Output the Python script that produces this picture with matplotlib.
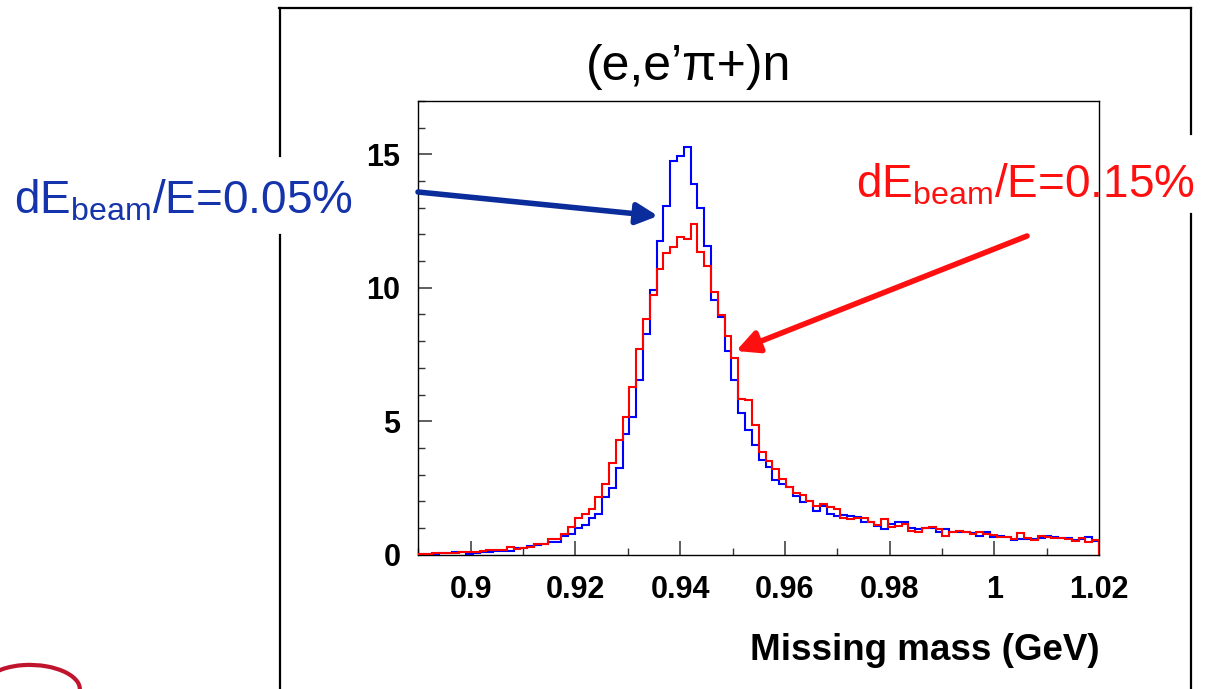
import numpy as np
import matplotlib
matplotlib.use("Agg")
import matplotlib.pyplot as plt
from matplotlib.lines import Line2D
from matplotlib.patches import FancyArrowPatch, Arc
from matplotlib.ticker import FixedLocator, FixedFormatter, MultipleLocator

plt.rcParams['font.family'] = ['Liberation Sans', 'DejaVu Sans']
plt.rcParams['mathtext.fontset'] = 'custom'
plt.rcParams['mathtext.rm'] = 'Liberation Sans'
plt.rcParams['mathtext.it'] = 'Liberation Sans:italic'
plt.rcParams['mathtext.bf'] = 'Liberation Sans:bold'

# ---------------- data ----------------
bin_lo, bin_hi, n_bins = 0.89, 1.02, 100

counts_005 = [  # dE_beam/E = 0.05% (blue)
    0.02, 0.02, 0.04, 0.06, 0.07, 0.085, 0.11, 0.02, 0.05, 0.085,
    0.11, 0.12, 0.135, 0.15, 0.235, 0.26, 0.32, 0.35, 0.40, 0.48,
    0.48, 0.70, 0.76, 1.01, 1.11, 1.39, 1.54, 2.17, 2.50, 3.23,
    4.51, 5.16, 6.53, 8.28, 9.93, 11.77, 13.07, 14.77, 14.95, 15.29,
    13.89, 12.98, 11.55, 9.55, 8.90, 7.62, 6.53, 5.29, 4.66, 4.10,
    3.56, 3.29, 2.79, 2.64, 2.52, 2.18, 1.98, 2.00, 1.63, 1.82,
    1.52, 1.43, 1.48, 1.44, 1.42, 1.22, 1.24, 1.07, 0.97, 1.16,
    1.21, 1.21, 1.00, 0.96, 1.00, 1.01, 0.85, 0.95, 0.85, 0.85,
    0.86, 0.80, 0.70, 0.83, 0.67, 0.71, 0.67, 0.55, 0.57, 0.57,
    0.58, 0.61, 0.70, 0.67, 0.63, 0.61, 0.55, 0.58, 0.67, 0.52,
]

counts_015 = [  # dE_beam/E = 0.15% (red)
    0.02, 0.035, 0.047, 0.06, 0.07, 0.07, 0.085, 0.085, 0.11, 0.15,
    0.16, 0.19, 0.19, 0.275, 0.22, 0.26, 0.30, 0.38, 0.41, 0.60,
    0.58, 0.76, 1.04, 1.36, 1.54, 1.70, 2.14, 2.64, 3.45, 4.29,
    5.14, 6.28, 7.72, 8.84, 9.72, 10.69, 11.31, 11.52, 11.90, 11.81,
    12.40, 11.34, 10.80, 9.86, 8.99, 8.19, 7.37, 5.85, 5.79, 4.87,
    3.85, 3.50, 3.20, 2.83, 2.52, 2.29, 2.22, 2.00, 1.82, 1.91,
    1.77, 1.70, 1.36, 1.32, 1.37, 1.36, 1.23, 1.11, 1.32, 1.05,
    1.08, 1.13, 0.88, 0.84, 0.98, 1.04, 0.97, 0.70, 0.86, 0.88,
    0.86, 0.76, 0.83, 0.76, 0.73, 0.67, 0.67, 0.58, 0.82, 0.61,
    0.55, 0.71, 0.67, 0.63, 0.61, 0.58, 0.52, 0.63, 0.48, 0.55,
]

xtick_vals = [0.9, 0.92, 0.94, 0.96, 0.98, 1.0, 1.02]
xtick_labels = ["0.9", "0.92", "0.94", "0.96", "0.98", "1", "1.02"]
ytick_vals = [0, 5, 10, 15]
ytick_labels = ["0", "5", "10", "15"]

title_text = "(e,e\u2019\u03c0+)n"
xlabel_text = "Missing mass (GeV)"
label_005 = r"dE$_{\mathrm{beam}}$/E=0.05%"
label_015 = r"dE$_{\mathrm{beam}}$/E=0.15%"

# ---------------- figure ----------------
W, H = 1207, 689
fig = plt.figure(figsize=(W / 100, H / 100), dpi=100)
fig.patch.set_facecolor("white")

def fx(x):
    return x / W

def fy(y):
    return 1 - y / H

ax = fig.add_axes([fx(418.4), fy(554.6), fx(1099) - fx(418.4), fy(101) - fy(554.6)])

edges = np.linspace(bin_lo, bin_hi, n_bins + 1)
ax.stairs(counts_005, edges, baseline=0, color=(0.0, 0.0, 1.0), lw=1.5, zorder=3)
ax.stairs(counts_015, edges, baseline=0, color=(1.0, 0.0, 0.0), lw=1.5, zorder=4)

ax.set_xlim(bin_lo, bin_hi)
ax.set_ylim(0, 17)

ax.xaxis.set_major_locator(FixedLocator(xtick_vals))
ax.xaxis.set_major_formatter(FixedFormatter(xtick_labels))
ax.xaxis.set_minor_locator(MultipleLocator(0.01))
ax.yaxis.set_major_locator(FixedLocator(ytick_vals))
ax.yaxis.set_major_formatter(FixedFormatter(ytick_labels))
ax.yaxis.set_minor_locator(MultipleLocator(1))

ax.tick_params(axis='both', which='both', direction='in', color='#333333',
               top=False, right=False)
ax.tick_params(axis='both', which='major', length=10, width=1.1)
ax.tick_params(axis='both', which='minor', length=5, width=1.0)
ax.tick_params(axis='x', which='major', pad=15, labelsize=22)
ax.tick_params(axis='y', which='major', pad=13, labelsize=22)
for lab in ax.get_xticklabels() + ax.get_yticklabels():
    lab.set_fontweight('bold')
for sp in ax.spines.values():
    sp.set_linewidth(1.0)
    sp.set_color('black')

# axis title (right aligned, ROOT style)
fig.text(fx(1100), fy(650), xlabel_text, ha='right', va='center',
         fontsize=26.5, fontweight='bold')

# plot title
fig.text(fx(689), fy(67), title_text, ha='center', va='center', fontsize=36)

# ---------------- outer frame (with gaps behind the labels) ----------------
frame_kw = dict(color='black', lw=1.6, transform=fig.transFigure)
segs = [
    ((279, 1191), (8, 8)),
    ((280, 280), (8, 156)),
    ((280, 280), (235, 689)),
    ((1191, 1191), (8, 134)),
    ((1191, 1191), (214, 689)),
]
for xs, ys in segs:
    fig.add_artist(Line2D([fx(xs[0]), fx(xs[1])], [fy(ys[0]), fy(ys[1])], **frame_kw))

# ---------------- annotations ----------------
fig.text(fx(14), fy(201), label_005, ha='left', va='center', fontsize=33,
         color='#1533aa')
fig.text(fx(856), fy(185), label_015, ha='left', va='center', fontsize=33,
         color='#ff1010')

arrow_blue = FancyArrowPatch((fx(418), fy(192)), (fx(658), fy(216)),
                             transform=fig.transFigure, arrowstyle='-|>',
                             mutation_scale=32, lw=4.0, color='#0b2d9c',
                             shrinkA=0, shrinkB=0, zorder=10)
arrow_red = FancyArrowPatch((fx(1027), fy(236)), (fx(736), fy(351)),
                            transform=fig.transFigure, arrowstyle='-|>',
                            mutation_scale=34, lw=4.0, color='#ff1010',
                            shrinkA=0, shrinkB=0, zorder=10)
fig.add_artist(arrow_blue)
fig.add_artist(arrow_red)

# ---------------- partial logo swoosh, bottom left ----------------
arc = Arc((fx(32), fy(688)), fx(96), 46 / H, angle=-8, theta1=-55, theta2=165,
          color='#c0142e', lw=3.0, transform=fig.transFigure)
fig.add_artist(arc)

fig.savefig("out.png", dpi=100, facecolor="white")
